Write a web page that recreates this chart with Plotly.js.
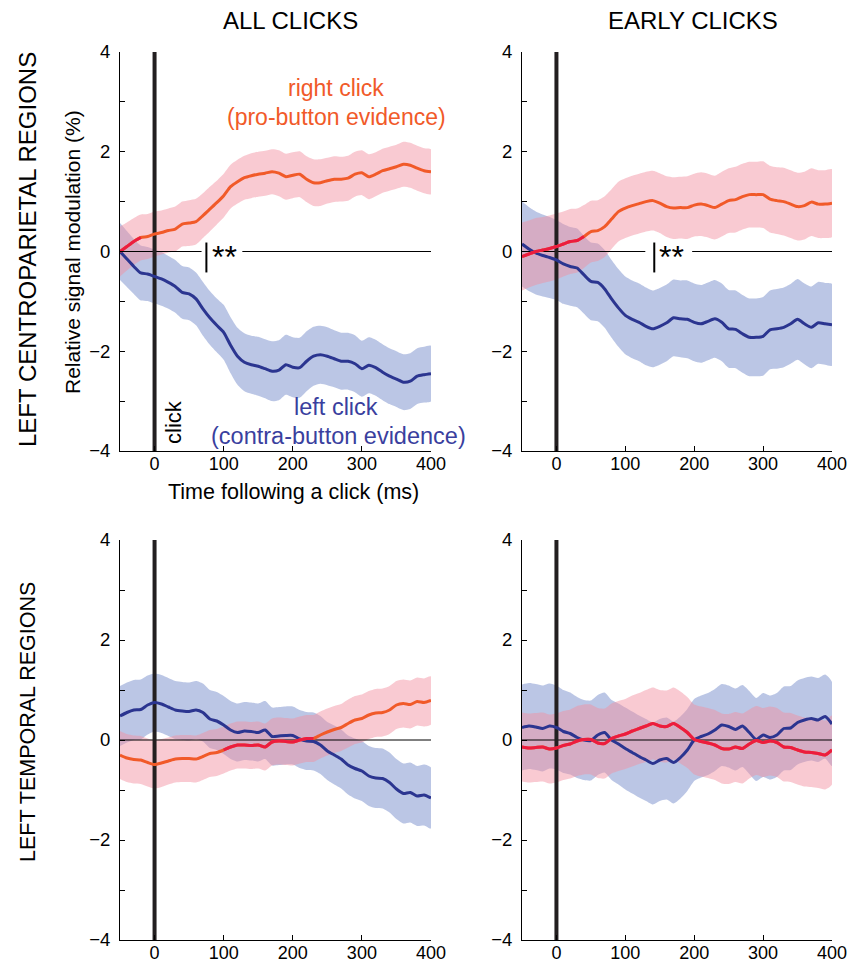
<!DOCTYPE html>
<html>
<head>
<meta charset="utf-8">
<script src="https://cdn.plot.ly/plotly-3.0.1.min.js"></script>
<style>html,body{margin:0;padding:0;background:#fff;}#chart{width:847px;height:962px;}</style>
</head>
<body>
<div id="chart"></div>
<script>
// ---------------- DATA ----------------
const time = [-50,-40,-30,-20,-10,0,10,20,30,40,50,60,70,80,90,100,110,120,130,140,150,160,170,180,190,200,210,220,230,240,250,260,270,280,290,300,310,320,330,340,350,360,370,380,390,400];

const columnTitles = ["ALL CLICKS", "EARLY CLICKS"];
const rowTitles = ["LEFT CENTROPARIETAL REGIONS", "LEFT TEMPORAL REGIONS"];
const yTickVals = [-4,-3,-2,-1,0,1,2,3,4];
const yTickText = ["\u22124","","\u22122","","0","","2","","4"];
const xTickVals = [0,100,200,300,400];

// Left centroparietal, all clicks
const cpAllRight = [0,0.1,0.2,0.28,0.3,0.35,0.38,0.42,0.45,0.55,0.57,0.6,0.72,0.85,0.98,1.12,1.3,1.4,1.48,1.52,1.55,1.57,1.6,1.57,1.5,1.53,1.55,1.45,1.38,1.38,1.42,1.45,1.45,1.47,1.55,1.58,1.5,1.55,1.62,1.66,1.7,1.75,1.73,1.67,1.62,1.6];
const cpAllRightSE = [0.5,0.48,0.47,0.46,0.45,0.45,0.44,0.44,0.45,0.45,0.46,0.46,0.45,0.45,0.44,0.44,0.44,0.44,0.44,0.45,0.45,0.45,0.45,0.46,0.46,0.46,0.46,0.46,0.47,0.47,0.46,0.46,0.45,0.45,0.45,0.45,0.45,0.44,0.44,0.44,0.44,0.45,0.45,0.45,0.45,0.45];
const cpAllLeft = [0,-0.15,-0.3,-0.43,-0.45,-0.5,-0.55,-0.62,-0.7,-0.82,-0.85,-0.95,-1.15,-1.33,-1.48,-1.62,-1.88,-2.1,-2.22,-2.27,-2.3,-2.35,-2.4,-2.38,-2.27,-2.32,-2.33,-2.2,-2.1,-2.07,-2.1,-2.15,-2.2,-2.2,-2.25,-2.35,-2.28,-2.33,-2.42,-2.5,-2.56,-2.62,-2.6,-2.5,-2.47,-2.45];
const cpAllLeftSE = [0.57,0.56,0.55,0.55,0.54,0.54,0.54,0.53,0.53,0.53,0.53,0.53,0.54,0.54,0.54,0.55,0.56,0.57,0.58,0.58,0.59,0.59,0.6,0.6,0.6,0.6,0.6,0.6,0.59,0.58,0.58,0.57,0.57,0.57,0.57,0.56,0.56,0.56,0.56,0.56,0.56,0.56,0.56,0.56,0.56,0.56];

// Left centroparietal, early clicks
const cpEarlyRight = [-0.1,-0.05,0,0.03,0.06,0.1,0.15,0.2,0.22,0.3,0.4,0.42,0.5,0.65,0.8,0.87,0.92,0.96,1.0,1.02,0.97,0.9,0.87,0.88,0.88,0.93,0.95,0.92,0.88,0.95,1.02,1.04,1.1,1.14,1.14,1.14,1.05,1.02,1.0,0.95,0.9,0.92,0.99,0.95,0.95,0.97];
const cpEarlyRightSE = [0.68,0.67,0.67,0.66,0.66,0.66,0.65,0.65,0.64,0.63,0.62,0.61,0.61,0.6,0.6,0.6,0.6,0.6,0.6,0.6,0.6,0.61,0.62,0.62,0.63,0.63,0.64,0.64,0.64,0.65,0.65,0.66,0.66,0.66,0.66,0.67,0.67,0.67,0.68,0.68,0.68,0.68,0.68,0.68,0.68,0.68];
const cpEarlyLeft = [0.15,0.05,-0.03,-0.08,-0.12,-0.17,-0.25,-0.3,-0.33,-0.47,-0.6,-0.62,-0.75,-0.95,-1.13,-1.28,-1.36,-1.42,-1.5,-1.55,-1.5,-1.43,-1.33,-1.35,-1.36,-1.42,-1.45,-1.4,-1.35,-1.42,-1.55,-1.56,-1.65,-1.72,-1.72,-1.7,-1.57,-1.55,-1.52,-1.45,-1.36,-1.45,-1.52,-1.43,-1.45,-1.47];
const cpEarlyLeftSE = [0.85,0.84,0.83,0.82,0.81,0.8,0.8,0.79,0.79,0.78,0.78,0.78,0.78,0.78,0.78,0.78,0.78,0.78,0.78,0.77,0.77,0.77,0.77,0.77,0.78,0.78,0.78,0.78,0.78,0.78,0.78,0.78,0.78,0.78,0.78,0.79,0.79,0.8,0.8,0.8,0.81,0.81,0.82,0.82,0.82,0.82];

// Left temporal, all clicks
const tmAllLeft = [0.48,0.55,0.6,0.61,0.7,0.75,0.72,0.66,0.6,0.58,0.57,0.6,0.55,0.42,0.38,0.3,0.2,0.15,0.18,0.17,0.15,0.2,0.07,0.08,0.09,0.09,0.02,-0.02,-0.03,-0.1,-0.22,-0.3,-0.38,-0.5,-0.57,-0.62,-0.72,-0.76,-0.77,-0.85,-0.98,-1.07,-1.05,-1.12,-1.1,-1.16];
const tmAllLeftSE = [0.6,0.6,0.6,0.6,0.59,0.58,0.58,0.58,0.58,0.58,0.58,0.58,0.58,0.58,0.58,0.58,0.58,0.58,0.58,0.58,0.58,0.58,0.58,0.58,0.58,0.58,0.58,0.58,0.58,0.58,0.58,0.59,0.59,0.59,0.6,0.6,0.6,0.6,0.6,0.6,0.6,0.6,0.6,0.6,0.61,0.61];
const tmAllRight = [-0.3,-0.36,-0.39,-0.4,-0.45,-0.49,-0.46,-0.42,-0.38,-0.37,-0.37,-0.38,-0.33,-0.27,-0.25,-0.2,-0.14,-0.1,-0.1,-0.11,-0.1,-0.14,-0.04,-0.02,-0.03,-0.04,0,0.03,0.03,0.1,0.16,0.21,0.25,0.33,0.4,0.43,0.5,0.54,0.55,0.6,0.7,0.73,0.71,0.77,0.75,0.79];
const tmAllRightSE = [0.48,0.48,0.48,0.48,0.48,0.48,0.48,0.47,0.47,0.47,0.47,0.47,0.47,0.47,0.47,0.47,0.47,0.47,0.47,0.47,0.47,0.47,0.47,0.47,0.47,0.47,0.47,0.47,0.47,0.47,0.47,0.47,0.47,0.48,0.48,0.48,0.48,0.48,0.48,0.48,0.48,0.48,0.48,0.48,0.48,0.48];

// Left temporal, early clicks
const tmEarlyLeft = [0.25,0.28,0.26,0.23,0.28,0.25,0.17,0.13,0.05,0,-0.01,0.1,0.15,0,-0.08,-0.17,-0.25,-0.33,-0.4,-0.47,-0.4,-0.37,-0.45,-0.35,-0.2,0,0.07,0.12,0.2,0.3,0.27,0.21,0.28,0.15,0.01,0.1,0.05,0.1,0.23,0.24,0.35,0.4,0.43,0.4,0.47,0.32];
const tmEarlyLeftSE = [0.86,0.86,0.86,0.86,0.85,0.84,0.83,0.82,0.81,0.8,0.8,0.8,0.8,0.8,0.81,0.82,0.82,0.82,0.82,0.82,0.82,0.82,0.82,0.82,0.82,0.82,0.82,0.82,0.82,0.82,0.82,0.82,0.82,0.83,0.83,0.84,0.84,0.84,0.84,0.84,0.84,0.84,0.84,0.84,0.84,0.84];
const tmEarlyRight = [-0.14,-0.16,-0.15,-0.14,-0.18,-0.16,-0.11,-0.08,-0.02,0.01,0.01,-0.06,-0.07,0.03,0.08,0.12,0.18,0.23,0.28,0.33,0.28,0.27,0.33,0.25,0.15,0.01,-0.03,-0.06,-0.1,-0.17,-0.18,-0.14,-0.17,-0.08,-0.01,-0.05,-0.02,-0.05,-0.14,-0.15,-0.2,-0.24,-0.25,-0.27,-0.3,-0.2];
const tmEarlyRightSE = [0.69,0.69,0.69,0.69,0.69,0.69,0.69,0.69,0.7,0.7,0.7,0.7,0.7,0.7,0.7,0.7,0.71,0.71,0.72,0.72,0.72,0.72,0.72,0.72,0.71,0.7,0.7,0.7,0.7,0.7,0.7,0.7,0.7,0.69,0.69,0.69,0.69,0.69,0.69,0.69,0.69,0.69,0.69,0.69,0.69,0.69];

// ---------------- STYLE / LAYOUT ----------------
const W = 847, H = 962;
const FONT = "Liberation Sans, Arial, Helvetica, sans-serif";
const ORANGE = "#f15a29", CRIMSON = "#ec1c3f", NAVY = "#2b3590";
const PINK_FILL = "rgba(242,145,160,0.48)", BLUE_FILL = "rgba(125,145,205,0.52)";
const CLICK_T = 0;
const fx = p => p / W, fy = p => 1 - p / H;

const panels = [
  {xa:"x",  ya:"y",  right:cpAllRight,  rightSE:cpAllRightSE,  left:cpAllLeft,  leftSE:cpAllLeftSE,  crimson:[[-50,-20]], sig:{gap:[68,127], bar:75, stars:101}},
  {xa:"x2", ya:"y2", right:cpEarlyRight,rightSE:cpEarlyRightSE,left:cpEarlyLeft,leftSE:cpEarlyLeftSE,crimson:[[-50,40]],  sig:{gap:[129,197], bar:142, stars:167}},
  {xa:"x3", ya:"y3", right:tmAllRight,  rightSE:tmAllRightSE,  left:tmAllLeft,  leftSE:tmAllLeftSE,  crimson:[[100,230]], sig:null},
  {xa:"x4", ya:"y4", right:tmEarlyRight,rightSE:tmEarlyRightSE,left:tmEarlyLeft,leftSE:tmEarlyLeftSE,crimson:[[-50,400]], sig:null}
];

function band(mean, se, color, xa, ya) {
  const up = mean.map((v,i)=>v+se[i]);
  const lo = mean.map((v,i)=>v-se[i]);
  return {x: time.concat(time.slice().reverse()), y: up.concat(lo.slice().reverse()),
    xaxis: xa, yaxis: ya, type:"scatter", mode:"lines", fill:"toself", fillcolor: color,
    line:{width:0, shape:"spline", smoothing:0.6}, hoverinfo:"skip", showlegend:false};
}
function line(xs, ys, color, xa, ya, w, smooth) {
  return {x: xs, y: ys, xaxis: xa, yaxis: ya, type:"scatter", mode:"lines",
    line: smooth ? {color: color, width: w, shape:"spline", smoothing:0.6} : {color: color, width: w},
    hoverinfo:"skip", showlegend:false};
}

const traces = [];
const shapes = [];
const annotations = [];
panels.forEach(p => {
  traces.push(band(p.left, p.leftSE, BLUE_FILL, p.xa, p.ya));
  traces.push(band(p.right, p.rightSE, PINK_FILL, p.xa, p.ya));
  // zero reference line (with gap for significance marker)
  if (p.sig) {
    traces.push(line([-50, p.sig.gap[0]], [0,0], "#000", p.xa, p.ya, 1));
    traces.push(line([p.sig.gap[1], 400], [0,0], "#000", p.xa, p.ya, 1));
    shapes.push({type:"line", xref:p.xa, yref:p.ya, x0:p.sig.bar, x1:p.sig.bar, y0:0.18, y1:-0.42, line:{color:"#000", width:2}});
    annotations.push({xref:p.xa, yref:p.ya, x:p.sig.stars, y:0, text:"**", showarrow:false,
      font:{family:FONT, size:32, color:"#000"}, yanchor:"middle", xanchor:"center", yshift:-5});
  } else {
    traces.push(line([-50, 400], [0,0], "#000", p.xa, p.ya, 1));
  }
  // click onset line
  traces.push(line([CLICK_T, CLICK_T], [-4, 4], "#231f20", p.xa, p.ya, 4));
  // mean lines
  traces.push(line(time, p.left, NAVY, p.xa, p.ya, 3, true));
  traces.push(line(time, p.right, ORANGE, p.xa, p.ya, 3, true));
  p.crimson.forEach(r => {
    const xs = [], ys = [];
    time.forEach((t,i) => { if (t >= r[0] && t <= r[1]) { xs.push(t); ys.push(p.right[i]); } });
    traces.push(line(xs, ys, CRIMSON, p.xa, p.ya, 3, true));
  });
});

function xAxis(domain, anchor) {
  return {domain: domain, anchor: anchor, range:[-50, 400], showline:true, linecolor:"#000", linewidth:1,
    showgrid:false, zeroline:false, ticks:"inside", ticklen:5, tickcolor:"#000", tickvals:xTickVals,
    ticklabelstandoff:-4, ticklabeloverflow:"allow", tickfont:{family:FONT, size:18, color:"#000"}, fixedrange:true};
}
function yAxis(domain, anchor) {
  return {domain: domain, anchor: anchor, range:[-4, 4], showline:true, linecolor:"#000", linewidth:1,
    showgrid:false, zeroline:false, ticks:"inside", ticklen:5, tickcolor:"#000", tickvals:yTickVals, ticktext:yTickText,
    ticklabelstandoff:5, ticklabeloverflow:"allow", tickfont:{family:FONT, size:18.5, color:"#000"}, fixedrange:true};
}
const xL = [fx(120), fx(431)], xR = [fx(522), fx(832)];
const yT = [fy(451), fy(52)], yB = [fy(940), fy(540)];

const txt = (x, y, text, size, color, angle) => ({xref:"paper", yref:"paper", x:fx(x), y:fy(y), text:text,
  showarrow:false, xanchor:"center", yanchor:"middle", textangle:angle||0, font:{family:FONT, size:size, color:color}});

annotations.push(txt(290, 20, columnTitles[0], 24, "#000"));
annotations.push(txt(693, 20, columnTitles[1], 24, "#000"));
annotations.push(txt(28, 250, rowTitles[0], 24, "#000", -90));
annotations.push(txt(28, 722, rowTitles[1], 21.5, "#000", -90));
annotations.push(txt(72, 252, "Relative signal modulation (%)", 21, "#000", -90));
annotations.push(txt(293, 492, "Time following a click (ms)", 21.5, "#000"));
annotations.push(txt(336, 88, "right click", 23, ORANGE));
annotations.push(txt(336, 117, "(pro-button evidence)", 23, ORANGE));
annotations.push(txt(336, 407, "left click", 23.5, "#3a3f9e"));
annotations.push(txt(338, 436, "(contra-button evidence)", 23.5, "#3a3f9e"));
annotations.push(txt(173, 422, "click", 22, "#000", -90));

const layout = {
  width: W, height: H, margin:{l:0, r:0, t:0, b:0}, paper_bgcolor:"#fff", plot_bgcolor:"rgba(0,0,0,0)",
  showlegend:false, font:{family:FONT, color:"#000"},
  xaxis: xAxis(xL, "y"), yaxis: yAxis(yT, "x"),
  xaxis2: xAxis(xR, "y2"), yaxis2: yAxis(yT, "x2"),
  xaxis3: xAxis(xL, "y3"), yaxis3: yAxis(yB, "x3"),
  xaxis4: xAxis(xR, "y4"), yaxis4: yAxis(yB, "x4"),
  shapes: shapes, annotations: annotations
};
Plotly.newPlot("chart", traces, layout, {staticPlot:true, displayModeBar:false});
</script>
</body>
</html>
